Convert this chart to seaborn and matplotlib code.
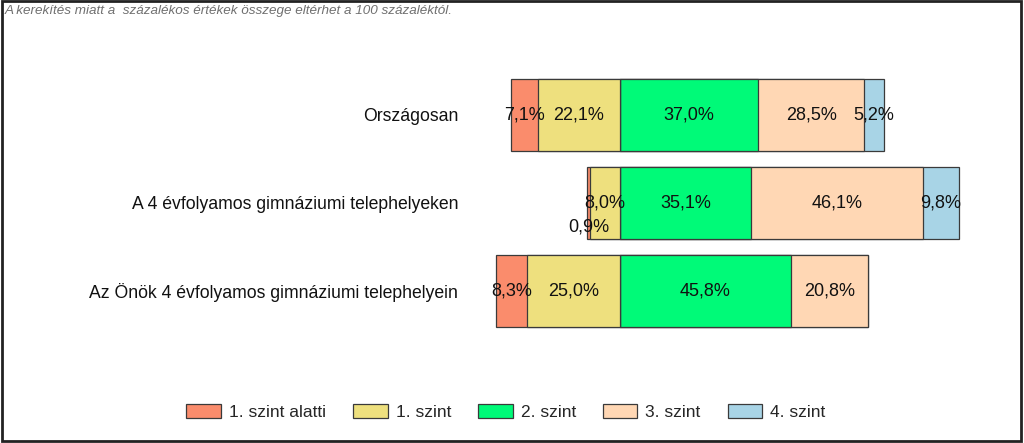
import matplotlib
matplotlib.use("Agg")
import matplotlib.pyplot as plt
from matplotlib.patches import Patch, Rectangle
import seaborn as sns
import pandas as pd
import numpy as np

categories = ["Országosan",
              "A 4 évfolyamos gimnáziumi telephelyeken",
              "Az Önök 4 évfolyamos gimnáziumi telephelyein"]
level_names = ["1. szint alatti", "1. szint", "2. szint", "3. szint", "4. szint"]
below1 = [7.1, 0.9, 8.3]
level1 = [22.1, 8.0, 25.0]
level2 = [37.0, 35.1, 45.8]
level3 = [28.5, 46.1, 20.8]
level4 = [5.2, 9.8, 0.0]
colors = ["#FA8C6C", "#EEE07E", "#00FA78", "#FFD7B4", "#A8D4E6"]
note = "A kerekítés miatt a  százalékos értékek összege eltérhet a 100 százaléktól."

sns.set_theme(style="white")
plt.rcParams["font.family"] = ["Liberation Sans", "DejaVu Sans"]

fig = plt.figure(figsize=(10.24, 4.43), dpi=100)
ax = fig.add_axes([0.4598, 0.2438, 0.5098, 0.596])

df = pd.DataFrame({"cat": categories,
                   "b1": below1, "l1": level1, "l2": level2, "l3": level3, "l4": level4})

edge = "#3a3a3a"
# right side (cumulative, largest first)
right_stack = [
    (df["l2"] + df["l3"] + df["l4"], colors[4]),
    (df["l2"] + df["l3"], colors[3]),
    (df["l2"], colors[2]),
]
left_stack = [
    (-(df["b1"] + df["l1"]), colors[0]),
    (-df["l1"], colors[1]),
]
for vals, col in right_stack + left_stack:
    sns.barplot(x=vals, y=df["cat"], orient="h", color=col, width=0.82,
                edgecolor=edge, linewidth=0.9, saturation=1, ax=ax)

# value labels
for i in range(len(categories)):
    vals = [below1[i], level1[i], level2[i], level3[i], level4[i]]
    starts = [-(below1[i] + level1[i]), -level1[i], 0,
              level2[i], level2[i] + level3[i]]
    for k, (v, s) in enumerate(zip(vals, starts)):
        if v <= 0:
            continue
        yoff = 0.27 if v < 2 else 0.0
        ax.text(s + v / 2, i + yoff, f"{v:.1f}".replace(".", ",") + "%",
                ha="center", va="center", fontsize=13, color="#111111")

ax.set_xlim(-40, 100)
ax.set_ylim(2.5, -0.5)
ax.set_xlabel("")
ax.set_ylabel("")
ax.set_xticks([])
ax.tick_params(axis="y", length=0, pad=9, labelsize=12.7, labelcolor="#111111")
for sp in ax.spines.values():
    sp.set_visible(False)

handles = [Patch(facecolor=c, edgecolor=edge, linewidth=0.9) for c in colors]
fig.legend(handles, level_names, loc="center", bbox_to_anchor=(0.494, 0.071),
           ncol=5, frameon=False, fontsize=12.5, handlelength=2.0, handleheight=0.86,
           columnspacing=1.55, handletextpad=0.46)

fig.text(0.005, 0.976, note, ha="left", va="center", fontsize=9.7,
         style="italic", color="#707070")

fig.patches.append(Rectangle((0.0015, 0.004), 0.996, 0.993, transform=fig.transFigure,
                             fill=False, edgecolor="#222222", linewidth=2.0))

fig.savefig("out.png", dpi=100)
